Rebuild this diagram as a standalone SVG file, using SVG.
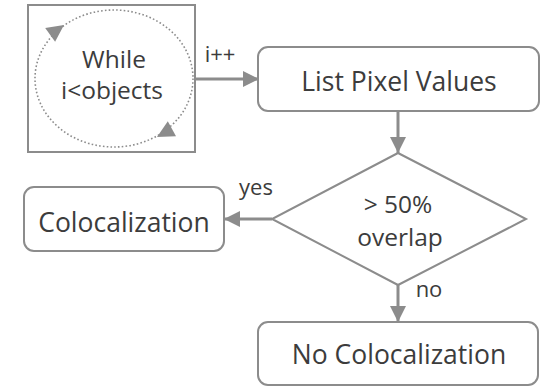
<svg xmlns="http://www.w3.org/2000/svg" width="544" height="386" viewBox="0 0 544 386">
<defs>
<marker id="arr" markerUnits="userSpaceOnUse" markerWidth="18" markerHeight="16" refX="16" refY="8" orient="auto">
<path d="M0,0 L16,8 L0,16 Z" fill="#8c8c8c"/>
</marker>
<style>
.box{fill:#ffffff;stroke:#8c8c8c;stroke-width:2}
.conn{stroke:#8c8c8c;stroke-width:3;fill:none}
.t{font-family:"Open Sans","Liberation Sans",sans-serif;fill:#3c3c3c;text-anchor:middle}
.big{font-size:26.5px}
.mid{font-size:24.5px}
.sm{font-size:22px}
</style>
</defs>
<rect width="544" height="386" fill="#ffffff"/>
<g id="loop">
<rect class="box" x="28" y="5" width="167" height="147" stroke-width="2.5"/>
<ellipse cx="114" cy="78.5" rx="79" ry="68.5" fill="none" stroke="#8c8c8c" stroke-width="1.6" stroke-dasharray="1.6 2.2"/>
<polygon points="64,25 55.1,41.8 45.2,27.9" fill="#8c8c8c"/>
<polygon points="157,137 167.8,121.3 176,136.2" fill="#8c8c8c"/>
<text class="t mid" x="114" y="68">While</text>
<text class="t mid" x="112" y="99">i&lt;objects</text>
</g>
<g id="list">
<rect class="box" x="258" y="47" width="281" height="64" rx="10"/>
<text class="t big" x="399" y="91">List Pixel Values</text>
</g>
<g id="decision">
<polygon class="box" points="398,153 526,219 398,285 272,219"/>
<text class="t mid" x="398" y="213">&gt; 50%</text>
<text class="t mid" x="400" y="246">overlap</text>
</g>
<g id="coloc">
<rect class="box" x="24" y="187" width="200" height="64" rx="10"/>
<text class="t big" x="124" y="232">Colocalization</text>
</g>
<g id="nocoloc">
<rect class="box" x="258" y="322" width="280" height="63" rx="10"/>
<text class="t big" x="399" y="364">No Colocalization</text>
</g>
<g id="connectors">
<line class="conn" x1="196" y1="79" x2="259" y2="79" marker-end="url(#arr)"/>
<line class="conn" x1="398" y1="111" x2="398" y2="153" marker-end="url(#arr)"/>
<line class="conn" x1="272" y1="219" x2="224" y2="219" marker-end="url(#arr)"/>
<line class="conn" x1="398" y1="285" x2="398" y2="322" marker-end="url(#arr)"/>
<text class="t sm" x="220" y="62">i++</text>
<text class="t sm" x="256" y="195">yes</text>
<text class="t sm" x="429" y="297">no</text>
</g>
</svg>
